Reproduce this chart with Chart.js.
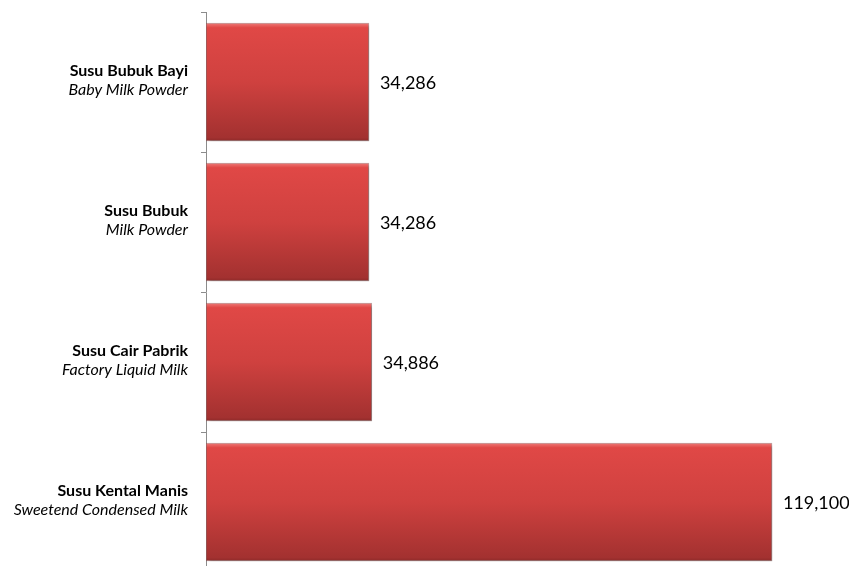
<!DOCTYPE html>
<html>
<head>
<meta charset="utf-8">
<script src="https://cdn.jsdelivr.net/npm/chart.js@4.4.1/dist/chart.umd.min.js"></script>
<style>
    html, body { margin: 0; padding: 0; background: #fff; overflow: hidden; }
    canvas { display: block; }
</style>
</head>
<body>
<canvas id="milkChart" width="849" height="572"></canvas>
<script>
var namesId = ['Susu Bubuk Bayi', 'Susu Bubuk', 'Susu Cair Pabrik', 'Susu Kental Manis'];
var namesEn = ['Baby Milk Powder', 'Milk Powder', 'Factory Liquid Milk', 'Sweetend Condensed Milk'];
var volumes = [34286, 34286, 34886, 119100];

var FONT = 'Lato, "Open Sans", sans-serif';

// vertical fill per bar, with a thin light bevel along the top edge
function barGradient(context) {
    var chart = context.chart;
    var y = chart.scales.y;
    if (context.type !== 'data' || !y) return '#d44340';
    var mid = y.getPixelForValue(context.dataIndex);
    if (!isFinite(mid)) return '#d44340';
    var g = chart.ctx.createLinearGradient(0, mid - 59, 0, mid + 59);
    g.addColorStop(0, '#ee7b78');
    g.addColorStop(0.04, '#e04846');
    g.addColorStop(0.5, '#cf413f');
    g.addColorStop(0.97, '#a33130');
    g.addColorStop(1, '#8f2a29');
    return g;
}

// soft drop shadow under the bars
var barShadow = {
    id: 'barShadow',
    beforeDatasetsDraw: function (chart) {
        var c = chart.ctx;
        c.save();
        c.shadowColor = 'rgba(0,0,0,0.35)';
        c.shadowBlur = 4;
        c.shadowOffsetX = 2;
        c.shadowOffsetY = 2;
    },
    afterDatasetsDraw: function (chart) {
        chart.ctx.restore();
    }
};

// two-line category names (bold + italic) and the value next to each bar
var barText = {
    id: 'barText',
    afterDraw: function (chart) {
        var c = chart.ctx;
        var y = chart.scales.y;
        var meta = chart.getDatasetMeta(0);
        c.save();
        c.fillStyle = '#000';
        c.textBaseline = 'middle';
        namesId.forEach(function (name, i) {
            var py = y.getPixelForValue(i);
            c.textAlign = 'right';
            c.font = 'bold 16px ' + FONT;
            c.fillText(name, 188, py - 11);
            c.font = 'italic 16px ' + FONT;
            c.fillText(namesEn[i], 188, py + 8);

            var bar = meta.data[i];
            c.textAlign = 'left';
            c.font = '18px ' + FONT;
            c.fillText(volumes[i].toLocaleString('en-US'), bar.x + 11, bar.y + 1);
        });
        c.restore();
    }
};

new Chart(document.getElementById('milkChart').getContext('2d'), {
    type: 'bar',
    data: {
        labels: namesId,
        datasets: [{
            data: volumes,
            backgroundColor: barGradient,
            borderColor: 'rgba(140,60,58,0.45)',
            borderWidth: 1,
            borderSkipped: false,
            barThickness: 118
        }]
    },
    options: {
        indexAxis: 'y',
        responsive: false,
        animation: false,
        layout: { padding: { top: 12, right: 49, bottom: 0, left: 0 } },
        plugins: {
            legend: { display: false },
            tooltip: { enabled: false }
        },
        scales: {
            x: {
                display: false,
                min: 0,
                max: 125000
            },
            y: {
                grid: {
                    offset: true,
                    drawOnChartArea: false,
                    drawTicks: true,
                    tickLength: 5,
                    color: '#8c8c8c'
                },
                border: { display: true, color: '#8c8c8c', width: 1 },
                ticks: { display: false },
                afterFit: function (scale) { scale.width = 206; }
            }
        }
    },
    plugins: [barShadow, barText]
});
</script>
</body>
</html>
